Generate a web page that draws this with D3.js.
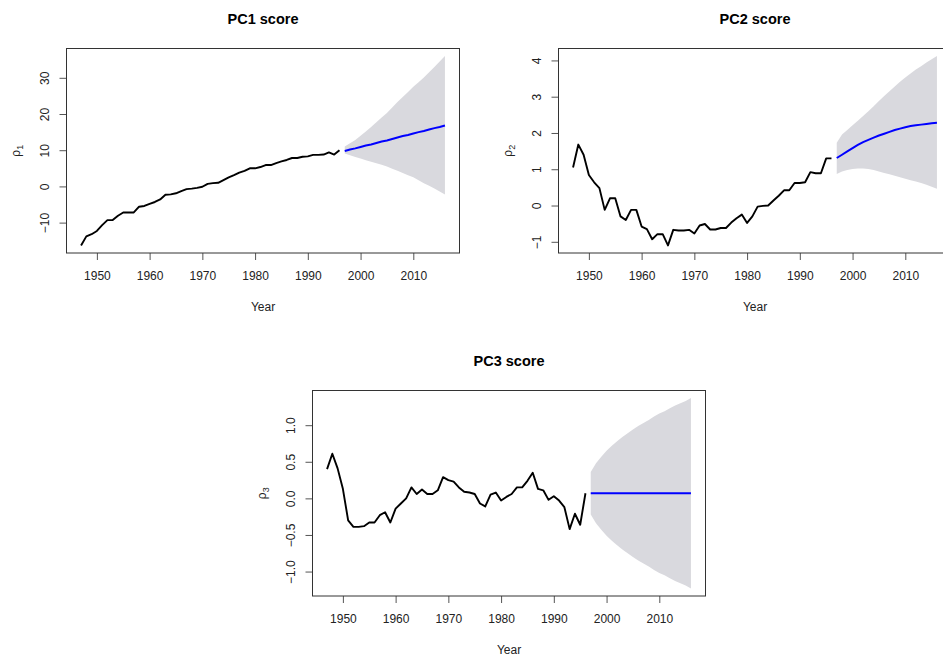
<!DOCTYPE html>
<html>
<head>
<meta charset="utf-8">
<script src="https://cdn.jsdelivr.net/npm/d3@7"></script>
<style>
  html, body { margin: 0; padding: 0; background: #fff; }
  svg { display: block; font-family: "Liberation Sans", Arial, sans-serif; }
</style>
</head>
<body>
<svg id="chart" width="943" height="659"></svg>
<script>
// Observed years and principal component scores
const years = d3.range(1947, 1997);
const pc1 = [-16.3,-13.8,-13.2,-12.3,-10.7,-9.3,-9.3,-8.1,-7.2,-7.2,-7.2,-5.6,-5.4,-4.8,-4.3,-3.6,-2.3,-2.2,-1.9,-1.3,
             -0.75,-0.6,-0.4,-0.1,0.7,0.9,1.0,1.75,2.5,3.1,3.8,4.3,5.0,5.0,5.35,5.9,5.9,6.45,6.9,7.3,
             7.85,7.85,8.2,8.3,8.7,8.7,8.8,9.4,8.8,10.0];
const pc2 = [1.05,1.68,1.40,0.84,0.64,0.48,-0.12,0.2,0.2,-0.3,-0.4,-0.12,-0.12,-0.58,-0.65,-0.93,-0.79,-0.79,-1.1,-0.67,
             -0.69,-0.69,-0.67,-0.77,-0.55,-0.51,-0.66,-0.66,-0.62,-0.62,-0.47,-0.35,-0.25,-0.48,-0.3,-0.03,-0.01,0.0,0.14,0.27,
             0.42,0.42,0.62,0.62,0.64,0.92,0.89,0.89,1.30,1.30];
const pc3 = [0.40,0.61,0.41,0.13,-0.30,-0.39,-0.39,-0.38,-0.33,-0.33,-0.23,-0.19,-0.33,-0.14,-0.07,0.0,0.15,0.06,0.12,0.06,
             0.06,0.11,0.29,0.25,0.23,0.15,0.09,0.08,0.06,-0.07,-0.11,0.05,0.08,-0.03,0.02,0.06,0.15,0.15,0.24,0.35,
             0.13,0.11,-0.02,0.03,-0.03,-0.12,-0.42,-0.21,-0.36,0.07];

// Forecast horizon with point forecasts and interval bounds
const fcYears = d3.range(1997, 2017);
const pc1Mean = [9.8,10.2,10.5,10.9,11.3,11.6,12.0,12.4,12.7,13.1,13.5,13.9,14.2,14.6,15.0,15.3,15.7,16.1,16.4,16.8];
const pc1Hi   = [11.0,11.9,12.8,14.0,15.2,16.4,17.7,19.0,20.3,21.8,23.3,24.7,26.1,27.5,28.8,30.1,31.5,33.0,34.5,36.0];
const pc1Lo   = [9.1,8.6,8.1,7.7,7.2,6.8,6.4,6.0,5.5,4.9,4.3,3.7,3.1,2.5,1.7,0.9,0.2,-0.6,-1.4,-2.2];
const pc2Mean = [1.31,1.40,1.49,1.58,1.67,1.75,1.81,1.87,1.93,1.98,2.03,2.08,2.12,2.16,2.19,2.21,2.23,2.25,2.27,2.28];
const pc2Hi   = [1.73,1.96,2.08,2.21,2.34,2.47,2.60,2.74,2.88,3.02,3.15,3.28,3.41,3.53,3.64,3.75,3.84,3.94,4.03,4.12];
const pc2Lo   = [0.87,0.94,0.98,1.01,1.02,1.02,1.01,0.98,0.94,0.90,0.86,0.82,0.78,0.74,0.70,0.66,0.62,0.57,0.52,0.46];
const pc3Mean = [0.07,0.07,0.07,0.07,0.07,0.07,0.07,0.07,0.07,0.07,0.07,0.07,0.07,0.07,0.07,0.07,0.07,0.07,0.07,0.07];
const pc3Hi   = [0.36,0.48,0.57,0.65,0.72,0.78,0.84,0.89,0.94,0.99,1.03,1.07,1.12,1.16,1.19,1.23,1.27,1.30,1.33,1.37];
const pc3Lo   = [-0.22,-0.34,-0.43,-0.51,-0.58,-0.64,-0.70,-0.75,-0.80,-0.85,-0.89,-0.93,-0.98,-1.02,-1.05,-1.09,-1.13,-1.16,-1.19,-1.23];

// Tick values and labels
const xTicks = [1950, 1960, 1970, 1980, 1990, 2000, 2010];
const pc1Ticks = [-10, 0, 10, 20, 30];
const pc2Ticks = [-1, 0, 1, 2, 3, 4];
const pc3Ticks = [-1.0, -0.5, 0.0, 0.5, 1.0];

const svg = d3.select("#chart");

// Pad a range by 4% on each side
function padded(lo, hi) {
  const r = hi - lo;
  return [lo - 0.04 * r, hi + 0.04 * r];
}

function panel(cfg) {
  const { left, right, top, bottom } = cfg.box;
  const allYears = years.concat(fcYears);
  const x = d3.scaleLinear()
    .domain(padded(d3.min(allYears), d3.max(allYears)))
    .range([left, right]);
  const yMin = d3.min([d3.min(cfg.obs), d3.min(cfg.lo)]);
  const yMax = d3.max([d3.max(cfg.obs), d3.max(cfg.hi)]);
  const y = d3.scaleLinear().domain(padded(yMin, yMax)).range([bottom, top]);

  const g = svg.append("g");

  // prediction interval
  const fc = fcYears.map((yr, i) => ({ yr, m: cfg.mean[i], lo: cfg.lo[i], hi: cfg.hi[i] }));
  g.append("path")
    .datum(fc)
    .attr("fill", "#d9d9de")
    .attr("d", d3.area().x(d => x(d.yr)).y0(d => y(d.lo)).y1(d => y(d.hi)));

  // observed series
  g.append("path")
    .datum(years.map((yr, i) => [yr, cfg.obs[i]]))
    .attr("fill", "none")
    .attr("stroke", "#000")
    .attr("stroke-width", 1.9)
    .attr("stroke-linejoin", "round")
    .attr("d", d3.line().x(d => x(d[0])).y(d => y(d[1])));

  // point forecast
  g.append("path")
    .datum(fc)
    .attr("fill", "none")
    .attr("stroke", "#0000ff")
    .attr("stroke-width", 2)
    .attr("d", d3.line().x(d => x(d.yr)).y(d => y(d.m)));

  // x axis
  const xa = g.append("g")
    .attr("transform", `translate(0,${bottom})`)
    .call(d3.axisBottom(x).tickValues(xTicks).tickFormat(d3.format("d")).tickSize(7).tickSizeOuter(0));
  xa.select(".domain").remove();
  xa.selectAll(".tick line").attr("stroke", "#555");
  xa.selectAll(".tick text")
    .attr("y", 0).attr("dy", null)
    .attr("transform", "translate(0,27)")
    .attr("font-size", 12).attr("fill", "#222")
    .attr("font-family", "Liberation Sans, Arial, sans-serif");

  // y axis with rotated labels
  const ya = g.append("g")
    .attr("transform", `translate(${left},0)`)
    .call(d3.axisLeft(y).tickValues(cfg.yTicks).tickFormat(cfg.fmt).tickSize(7).tickSizeOuter(0));
  ya.select(".domain").remove();
  ya.selectAll(".tick line").attr("stroke", "#555");
  ya.selectAll(".tick text")
    .attr("x", 0).attr("dy", null)
    .attr("transform", "translate(-18,0) rotate(-90)")
    .attr("text-anchor", "middle")
    .attr("font-size", 12).attr("fill", "#222")
    .attr("font-family", "Liberation Sans, Arial, sans-serif");

  // frame
  g.append("rect")
    .attr("x", left).attr("y", top)
    .attr("width", right - left).attr("height", bottom - top)
    .attr("fill", "none").attr("stroke", "#333").attr("stroke-width", 1);

  const cx = (left + right) / 2;
  g.append("text")
    .attr("x", cx).attr("y", top - 24.5)
    .attr("text-anchor", "middle")
    .attr("font-size", 14.5).attr("font-weight", "bold").attr("fill", "#000")
    .text(cfg.title);

  g.append("text")
    .attr("x", cx).attr("y", bottom + 57.5)
    .attr("text-anchor", "middle")
    .attr("font-size", 12).attr("fill", "#222")
    .text("Year");

  const yl = g.append("text")
    .attr("transform", `translate(${left - 47},${(top + bottom) / 2}) rotate(-90)`)
    .attr("text-anchor", "middle")
    .attr("font-size", 12).attr("fill", "#222");
  yl.append("tspan").text("ρ");
  yl.append("tspan").attr("font-size", 9).attr("dy", 3).text(cfg.sub);
}

const fmtInt = d3.format("d");
const fmtOne = d3.format(".1f");

panel({ box: { left: 66.5, right: 459.5, top: 48.5, bottom: 253 }, title: "PC1 score", sub: "1",
        obs: pc1, mean: pc1Mean, lo: pc1Lo, hi: pc1Hi, yTicks: pc1Ticks, fmt: fmtInt });
panel({ box: { left: 558.5, right: 951.5, top: 48.5, bottom: 253 }, title: "PC2 score", sub: "2",
        obs: pc2, mean: pc2Mean, lo: pc2Lo, hi: pc2Hi, yTicks: pc2Ticks, fmt: fmtInt });
panel({ box: { left: 312.5, right: 705.5, top: 390.5, bottom: 596 }, title: "PC3 score", sub: "3",
        obs: pc3, mean: pc3Mean, lo: pc3Lo, hi: pc3Hi, yTicks: pc3Ticks, fmt: fmtOne });
</script>
</body>
</html>
